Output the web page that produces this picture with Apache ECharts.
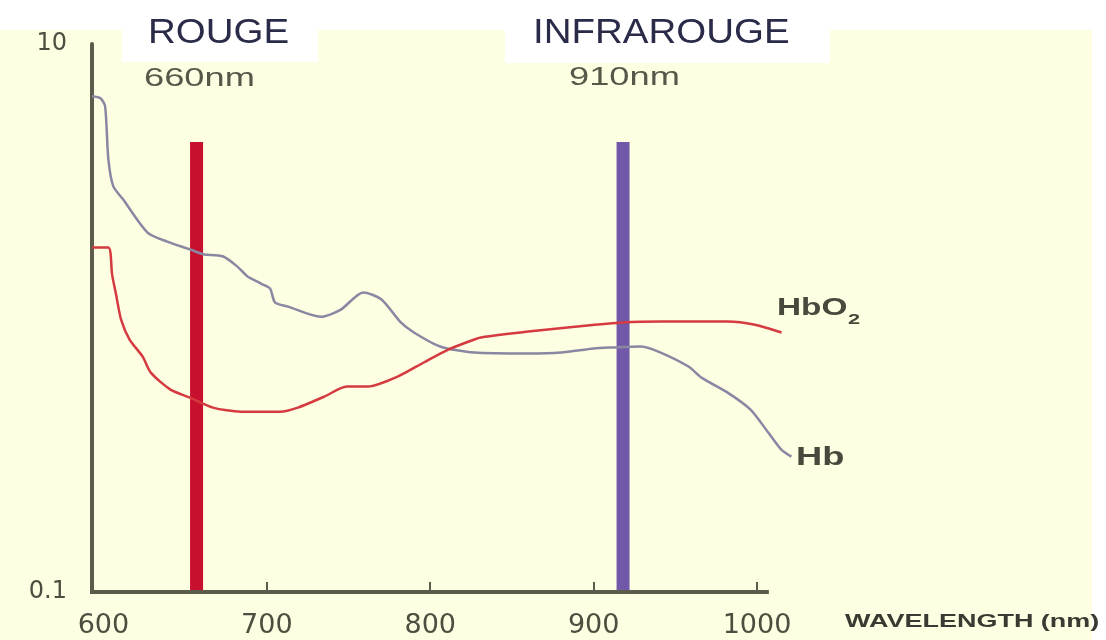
<!DOCTYPE html>
<html>
<head>
<meta charset="utf-8">
<script src="https://cdn.jsdelivr.net/npm/echarts@6/dist/echarts.min.js"></script>
<style>
  html, body { margin: 0; padding: 0; background: #fff; }
  #chart { width: 1106px; height: 640px; }
</style>
</head>
<body>
<div id="chart"></div>
<script>
// Hb (deoxy) absorption curve
const hbNm = [593, 598, 601, 603, 606, 612, 627, 639, 653, 661, 673, 682, 688, 697, 702, 705, 713, 733, 745, 759, 770, 782, 790, 806, 827, 860, 880, 900, 910, 929, 941, 958, 966, 982, 996, 1007, 1015, 1021];
const hbVal = [6.45, 6.35, 5.93, 3.80, 3.03, 2.71, 2.05, 1.90, 1.78, 1.71, 1.68, 1.54, 1.42, 1.33, 1.28, 1.14, 1.10, 1.01, 1.07, 1.24, 1.17, 0.963, 0.885, 0.787, 0.748, 0.742, 0.748, 0.774, 0.780, 0.787, 0.748, 0.665, 0.606, 0.534, 0.463, 0.381, 0.330, 0.312];

// HbO2 (oxy) absorption curve
const hbo2Nm = [593, 603, 605.3, 607.7, 610.8, 616, 624, 629, 641, 653, 667, 684, 708, 719, 735, 749, 762, 780, 796, 811, 827, 831, 860, 890, 918, 941, 982, 998, 1015];
const hbo2Val = [1.81, 1.81, 1.44, 1.22, 0.987, 0.834, 0.723, 0.632, 0.548, 0.512, 0.471, 0.455, 0.455, 0.471, 0.516, 0.562, 0.562, 0.611, 0.688, 0.767, 0.835, 0.849, 0.892, 0.931, 0.963, 0.971, 0.971, 0.947, 0.885];

// LED wavelengths (vertical bars) and their top
const redNm = 657;
const irNm = 918;
const barTop = 4.39;

// drawn x axis runs from the y axis to just past 1000
const axisStartNm = 593;
const axisEndNm = 1006;
const xTickValues = [700, 800, 900, 1000];
const xLabelValues = [600, 700, 800, 900, 1000];

const axisColor = '#5c5c4c';
const chart = echarts.init(document.getElementById('chart'));

function pairs(xs, ys) {
  return xs.map((x, i) => [x, ys[i]]);
}

chart.setOption({
  backgroundColor: '#fefee2',
  animation: false,
  // scale range 593..1022 so the curves can run a bit past the axis end
  grid: { left: 92, width: 701, top: 44, bottom: 48 },
  xAxis: {
    type: 'value',
    min: 593,
    max: 1022,
    axisLine: { show: false },
    axisTick: {
      show: true,
      inside: true,
      length: 10,
      customValues: xTickValues,
      lineStyle: { color: axisColor, width: 2 }
    },
    axisLabel: {
      customValues: xLabelValues,
      margin: 20,
      color: '#4e4e40',
      fontFamily: 'DejaVu Sans',
      fontSize: 27,
      formatter: function (v) { return String(v); }
    },
    splitLine: { show: false }
  },
  yAxis: {
    type: 'log',
    logBase: 10,
    min: 0.1,
    max: 10,
    axisLine: { show: true, lineStyle: { color: axisColor, width: 4 } },
    axisTick: { show: false },
    axisLabel: {
      margin: 25,
      color: '#4e4e40',
      fontFamily: 'DejaVu Sans',
      fontSize: 24,
      formatter: function (v) {
        return Math.abs(v - 1) < 1e-6 ? '' : String(v);
      }
    },
    splitLine: { show: false }
  },
  graphic: [
    // white strips behind the titles
    { type: 'rect', z: -1, shape: { x: 0, y: 0, width: 1106, height: 30 }, style: { fill: '#ffffff' } },
    { type: 'rect', z: -1, shape: { x: 1092, y: 0, width: 14, height: 640 }, style: { fill: '#ffffff' } },
    { type: 'rect', z: -1, shape: { x: 122, y: 0, width: 196, height: 62 }, style: { fill: '#ffffff' } },
    { type: 'rect', z: -1, shape: { x: 505, y: 0, width: 325, height: 63 }, style: { fill: '#ffffff' } },
    { type: 'text', x: 148, y: 33, scaleX: 1.1,
      style: { text: 'ROUGE', fontFamily: 'Liberation Sans', fontSize: 35, fill: '#2a2b48', align: 'left', verticalAlign: 'middle' } },
    { type: 'text', x: 533, y: 33, scaleX: 1.1,
      style: { text: 'INFRAROUGE', fontFamily: 'Liberation Sans', fontSize: 35, fill: '#2a2b48', align: 'left', verticalAlign: 'middle' } },
    { type: 'text', x: 144, y: 79, scaleX: 1.45,
      style: { text: '660nm', fontFamily: 'Liberation Sans', fontSize: 25, fill: '#58584a', align: 'left', verticalAlign: 'middle' } },
    { type: 'text', x: 569, y: 78, scaleX: 1.45,
      style: { text: '910nm', fontFamily: 'Liberation Sans', fontSize: 25, fill: '#58584a', align: 'left', verticalAlign: 'middle' } },
    { type: 'text', x: 777, y: 309, scaleX: 1.45,
      style: { text: 'HbO', fontFamily: 'Liberation Sans', fontWeight: 'bold', fontSize: 23, fill: '#48483c', align: 'left', verticalAlign: 'middle' } },
    { type: 'text', x: 848, y: 320, scaleX: 1.45,
      style: { text: '2', fontFamily: 'Liberation Sans', fontWeight: 'bold', fontSize: 15, fill: '#48483c', align: 'left', verticalAlign: 'middle' } },
    { type: 'text', x: 796, y: 458, scaleX: 1.45,
      style: { text: 'Hb', fontFamily: 'Liberation Sans', fontWeight: 'bold', fontSize: 25, fill: '#48483c', align: 'left', verticalAlign: 'middle' } },
    { type: 'text', x: 845, y: 622, scaleX: 1.42,
      style: { text: 'WAVELENGTH (nm)', fontFamily: 'Liberation Sans', fontWeight: 'bold', fontSize: 19, fill: '#3a3a32', align: 'left', verticalAlign: 'middle' } }
  ],
  series: [
    {
      name: 'rouge',
      type: 'line',
      symbol: 'none',
      data: [[redNm, 0.1], [redNm, barTop]],
      lineStyle: { color: '#c8102e', width: 13, cap: 'butt' },
      z: 1
    },
    {
      name: 'infrarouge',
      type: 'line',
      symbol: 'none',
      data: [[irNm, 0.1], [irNm, barTop]],
      lineStyle: { color: '#7258a8', width: 13, cap: 'butt' },
      z: 1
    },
    {
      name: 'x axis line',
      type: 'line',
      symbol: 'none',
      silent: true,
      data: [[axisStartNm, 0.1], [axisEndNm, 0.1]],
      lineStyle: { color: axisColor, width: 4, cap: 'square' },
      z: 2
    },
    {
      name: 'Hb',
      type: 'line',
      symbol: 'none',
      smooth: 0.25,
      data: pairs(hbNm, hbVal),
      lineStyle: { color: '#8a87a3', width: 2.5 },
      z: 3
    },
    {
      name: 'HbO2',
      type: 'line',
      symbol: 'none',
      smooth: 0.25,
      data: pairs(hbo2Nm, hbo2Val),
      lineStyle: { color: '#d43a3f', width: 2.5 },
      z: 3
    }
  ]
});
</script>
</body>
</html>
